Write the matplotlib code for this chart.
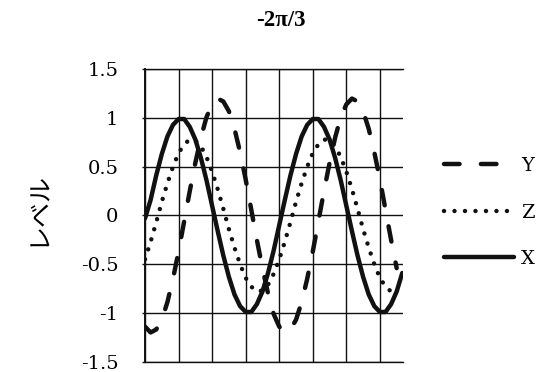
import matplotlib
matplotlib.use("Agg")
import matplotlib.pyplot as plt
from matplotlib.ticker import MultipleLocator

plt.rcParams['axes.unicode_minus'] = False

# phase angle in degrees, sampled every 15 deg
theta = list(range(0, 691, 15))

x_level = [-0.03, 0.16, 0.41, 0.63, 0.81, 0.93, 0.99, 0.99, 0.91, 0.78,
           0.59, 0.36, 0.10, -0.16, -0.41, -0.63, -0.81, -0.93, -0.99, -0.99,
           -0.91, -0.78, -0.59, -0.36, -0.10, 0.16, 0.41, 0.63, 0.81, 0.93,
           0.99, 0.99, 0.91, 0.78, 0.59, 0.36, 0.10, -0.16, -0.41, -0.63,
           -0.81, -0.93, -0.99, -0.99, -0.91, -0.78, -0.59]

y_level = [-1.14, -1.20, -1.17, -1.07, -0.89, -0.65, -0.37, -0.06, 0.25, 0.54,
           0.80, 1.01, 1.14, 1.20, 1.17, 1.07, 0.89, 0.65, 0.37, 0.06,
           -0.25, -0.54, -0.80, -1.01, -1.14, -1.20, -1.17, -1.07, -0.89, -0.65,
           -0.37, -0.06, 0.25, 0.54, 0.80, 1.01, 1.14, 1.20, 1.17, 1.07,
           0.89, 0.65, 0.37, 0.06, -0.25, -0.54]

z_level = [-0.45, -0.27, -0.07, 0.14, 0.33, 0.50, 0.64, 0.73, 0.78, 0.77,
           0.71, 0.60, 0.45, 0.27, 0.07, -0.14, -0.33, -0.50, -0.64, -0.73,
           -0.78, -0.77, -0.71, -0.60, -0.45, -0.27, -0.07, 0.14, 0.33, 0.50,
           0.64, 0.73, 0.78, 0.77, 0.71, 0.60, 0.45, 0.27, 0.07, -0.14,
           -0.33, -0.50, -0.64, -0.73, -0.78]

y_ticks = [1.5, 1, 0.5, 0, -0.5, -1, -1.5]
y_tick_labels = ['1.5', '1', '0.5', '0', '-0.5', '-1', '-1.5']

ink = '#111111'
serif = 'DejaVu Serif'

fig = plt.figure(figsize=(5.52, 3.72), dpi=100)
ax = fig.add_axes([0.2627, 0.0277, 0.4674, 0.786])

lw = 3.2
line_y, = ax.plot(theta[:len(y_level)], y_level, color=ink, lw=lw,
                  linestyle=(0, (3.5, 4.8)), dash_capstyle='round', label='Y')
line_z, = ax.plot(theta[:len(z_level)], z_level, color=ink, lw=lw,
                  linestyle=(0, (0.01, 2.35)), dash_capstyle='round', label='Z')
line_x, = ax.plot(theta[:len(x_level)], x_level, color=ink, lw=lw,
                  solid_capstyle='round', label='X')

ax.set_xlim(0, 692)
ax.set_ylim(-1.5, 1.5)
ax.xaxis.set_major_locator(MultipleLocator(90))
ax.set_yticks(y_ticks, labels=y_tick_labels)
ax.grid(True, color=ink, linewidth=1.0)
ax.set_axisbelow(True)

ax.tick_params(axis='x', length=0, labelbottom=False)
ax.tick_params(axis='y', direction='out', length=2.2, width=1.0, color=ink,
               pad=17, labelsize=14)
for lab in ax.get_yticklabels():
    lab.set_fontfamily(serif)

ax.spines['right'].set_visible(False)
ax.spines['left'].set_linewidth(1.4)
ax.spines['top'].set_linewidth(1.0)
ax.spines['bottom'].set_linewidth(1.0)
for s in ax.spines.values():
    s.set_color(ink)

fig.text(281 / 552, 1 - 21 / 372, '-2π/3', ha='center', va='center',
         family='Liberation Serif', weight='bold', fontsize=16.5)
fig.text(37.5 / 552, 1 - 209 / 372, 'レベル', rotation=90, ha='center',
         va='center', family=['Noto Sans CJK JP', 'DejaVu Sans'], fontsize=18)

fig.legend(handles=[line_y, line_z, line_x], loc='center left',
           bbox_to_anchor=(444 / 552, 1 - 212.5 / 372), frameon=False,
           handlelength=3.6, handletextpad=0.35, labelspacing=1.48,
           borderpad=0, borderaxespad=0,
           prop={'family': serif, 'size': 14})

fig.savefig('out.png', dpi=100)
